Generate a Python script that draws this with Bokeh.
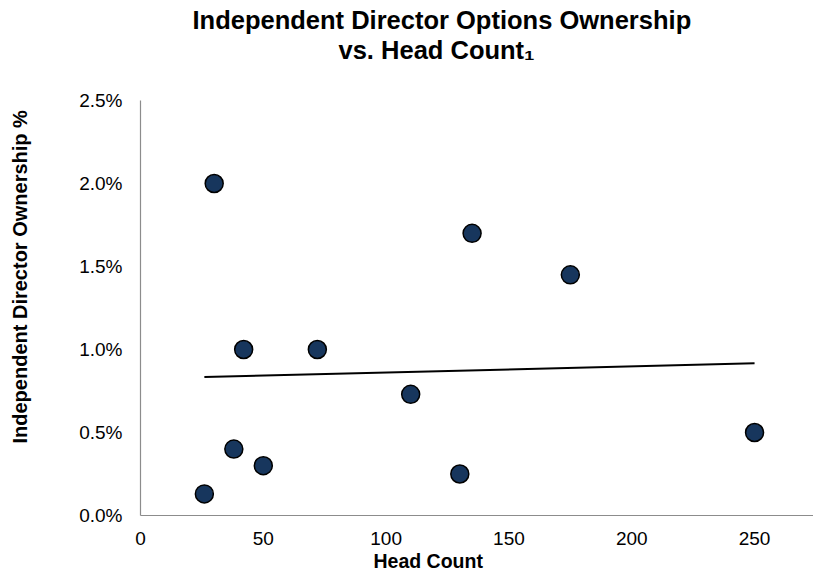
import numpy as np
from bokeh.plotting import figure
from bokeh.models import Range1d, Title, FixedTicker, PrintfTickFormatter, ColumnDataSource, LinearAxis
from bokeh.embed import file_html
from bokeh.resources import INLINE

# ---- data ----
head_count = [30, 42, 72, 38, 50, 26, 110, 130, 135, 175, 250]
ownership_pct = [2.0, 1.0, 1.0, 0.4, 0.3, 0.13, 0.73, 0.25, 1.70, 1.45, 0.5]
x_ticks = [0, 50, 100, 150, 200, 250]
y_ticks = [0.0, 0.5, 1.0, 1.5, 2.0, 2.5]
title_line1 = "Independent Director Options Ownership"
title_line2 = "vs. Head Count\u2081"
x_label = "Head Count"
y_label = "Independent Director Ownership %"

FONT = "Liberation Sans"

p = figure(width=813, height=573, output_backend="svg", toolbar_location=None,
           x_range=Range1d(0, 274), y_range=Range1d(0, 2.5),
           min_border_left=140, min_border_right=0, min_border_top=100, min_border_bottom=58)
p.outline_line_color = None
p.xgrid.grid_line_color = None
p.ygrid.grid_line_color = None
p.background_fill_color = "white"
p.border_fill_color = "white"

for ax in (p.xaxis[0], p.yaxis[0]):
    ax.axis_line_color = "#8c8c8c"
    ax.axis_line_width = 1.2
    ax.major_tick_line_color = None
    ax.minor_tick_line_color = None
    ax.major_tick_out = 0
    ax.major_tick_in = 0
    ax.major_label_text_font = FONT
    ax.major_label_text_font_size = "19px"
    ax.major_label_text_color = "black"

p.xaxis[0].ticker = FixedTicker(ticks=x_ticks)
p.yaxis[0].ticker = FixedTicker(ticks=y_ticks)
p.yaxis[0].formatter = PrintfTickFormatter(format="%.1f%%")
p.xaxis[0].major_label_standoff = 16
p.yaxis[0].major_label_standoff = 18

# trend line (least squares fit of the data)
xs = np.array(head_count, dtype=float)
ys = np.array(ownership_pct, dtype=float)
slope, intercept = np.polyfit(xs, ys, 1)
tx = np.array([xs.min(), xs.max()])
p.line(tx, slope * tx + intercept, line_color="black", line_width=2)

src = ColumnDataSource(dict(x=head_count, y=ownership_pct))
p.scatter("x", "y", source=src, size=18, fill_color="#17365d",
          line_color="black", line_width=1.5)


def spacer(px, at):
    """A blank axis (white tick on white, empty label) that only reserves space in a border panel."""
    return LinearAxis(ticker=FixedTicker(ticks=[at], minor_ticks=[]), axis_line_color=None,
                      major_tick_line_color="white", minor_tick_line_color=None,
                      major_tick_out=px, major_tick_in=0, minor_tick_out=0, minor_tick_in=0,
                      major_label_overrides={at: ""}, major_label_text_font_size="1px",
                      major_label_standoff=0, axis_label_standoff=0)


# titles and axis labels
common = dict(text_font=FONT, text_font_style="bold", text_color="black")
p.add_layout(spacer(37, 273), "above")
p.add_layout(Title(text=title_line2, align="left", offset=198, standoff=0,
                   text_font_size="25.5px", **common), "above")
p.add_layout(Title(text=title_line1, align="left", offset=52, standoff=0,
                   text_font_size="25.5px", **common), "above")
p.add_layout(Title(text=x_label, align="left", offset=233, standoff=0,
                   text_font_size="19.5px", **common), "below")
p.add_layout(spacer(46, 1.25), "left")
p.add_layout(Title(text=y_label, align="left", offset=72, standoff=0,
                   text_font_size="20px", **common), "left")

open("out.html", "w").write(file_html(p, INLINE))
